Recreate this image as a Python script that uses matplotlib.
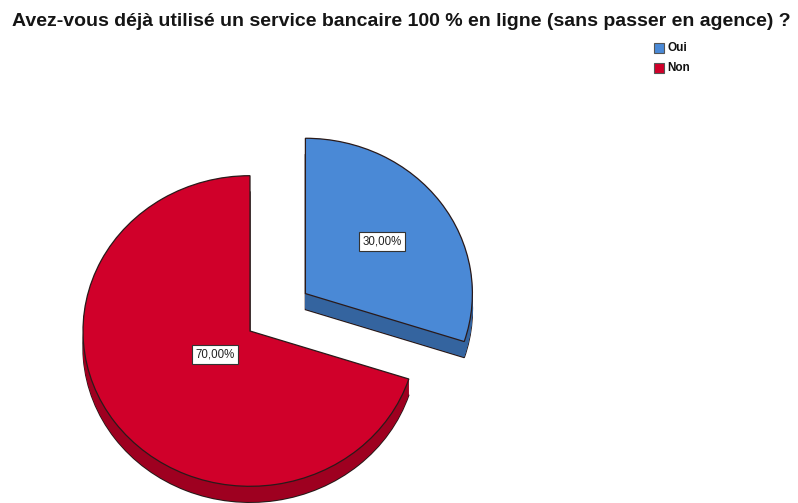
import matplotlib
matplotlib.use("Agg")
import matplotlib.pyplot as plt
from matplotlib.patches import Rectangle
import numpy as np

# Survey answers (percent)
categories = ["Oui", "Non"]
values = [30.0, 70.0]
explode = [0.41, 0.0]   # fraction of the radius
title = "Avez-vous déjà utilisé un service bancaire 100 % en ligne (sans passer en agence) ?"

top_colors = ["#4a89d6", "#d0002a"]
side_colors = ["#34649f", "#9e0020"]
edge_color = "#2a1a1a"

W, H = 798, 503
fig = plt.figure(figsize=(W / 100, H / 100), dpi=100)
ax = fig.add_axes([0, 0, 1, 1])

# Vertical squash of the pie disc to give it a slight tilt
squash = 0.93
R = 167.0
cx_px, cy_px = 250.0, 331.0
depth_px = 16.0

cx = cx_px
cy = (H - cy_px) / squash
explode_units = [e * R for e in explode]

def draw_layer(offset, colors, lw):
    wedges, _ = ax.pie(values, explode=explode_units, colors=colors, radius=R,
                       center=(cx, cy - offset / squash), startangle=90,
                       counterclock=False, normalize=True,
                       wedgeprops=dict(linewidth=lw, edgecolor=edge_color,
                                       antialiased=True))
    return wedges

# Side of the 3D disc: bottom outline then stacked fill layers
draw_layer(depth_px, side_colors, 1.0)
for d in np.arange(depth_px - 0.5, 0, -0.5):
    draw_layer(d, side_colors, 0)
draw_layer(0, top_colors, 0.9)

ax.set_aspect("auto")
ax.set_xlim(0, W)
ax.set_ylim(0, H / squash)
ax.axis("off")

# Percentage labels inside each slice
label_dist = [0.57, 0.26]
total = sum(values)
start = 90.0
for v, ex, ld in zip(values, explode, label_dist):
    sweep = 360.0 * v / total
    mid = np.deg2rad(start - sweep / 2)
    start -= sweep
    x = cx + R * (ex + ld) * np.cos(mid)
    y = cy + R * (ex + ld) * np.sin(mid)
    ax.text(x, y, f"{v:.2f}%".replace(".", ","), ha="center", va="center",
            fontsize=8.3, family="Liberation Sans", color="#222222",
            bbox=dict(boxstyle="square,pad=0.3", facecolor="white",
                      edgecolor="#333333", linewidth=0.8))

# Title
fig.text(12 / W, 1 - 21 / H, title, ha="left", va="center", fontsize=14.0,
         fontweight="bold", family="Liberation Sans", color="#151515")

# Legend
for i, (name, col) in enumerate(zip(categories, top_colors)):
    y0 = 43 + 20 * i
    fig.patches.append(Rectangle((654 / W, 1 - (y0 + 10) / H), 10 / W, 10 / H,
                                 transform=fig.transFigure, facecolor=col,
                                 edgecolor="#555555", linewidth=0.8))
    fig.text(667 / W, 1 - (y0 + 5) / H, name, ha="left", va="center",
             fontsize=8.5, fontweight="bold", family="Liberation Sans",
             color="#111111")

fig.savefig("out.png", dpi=100, facecolor="white")
